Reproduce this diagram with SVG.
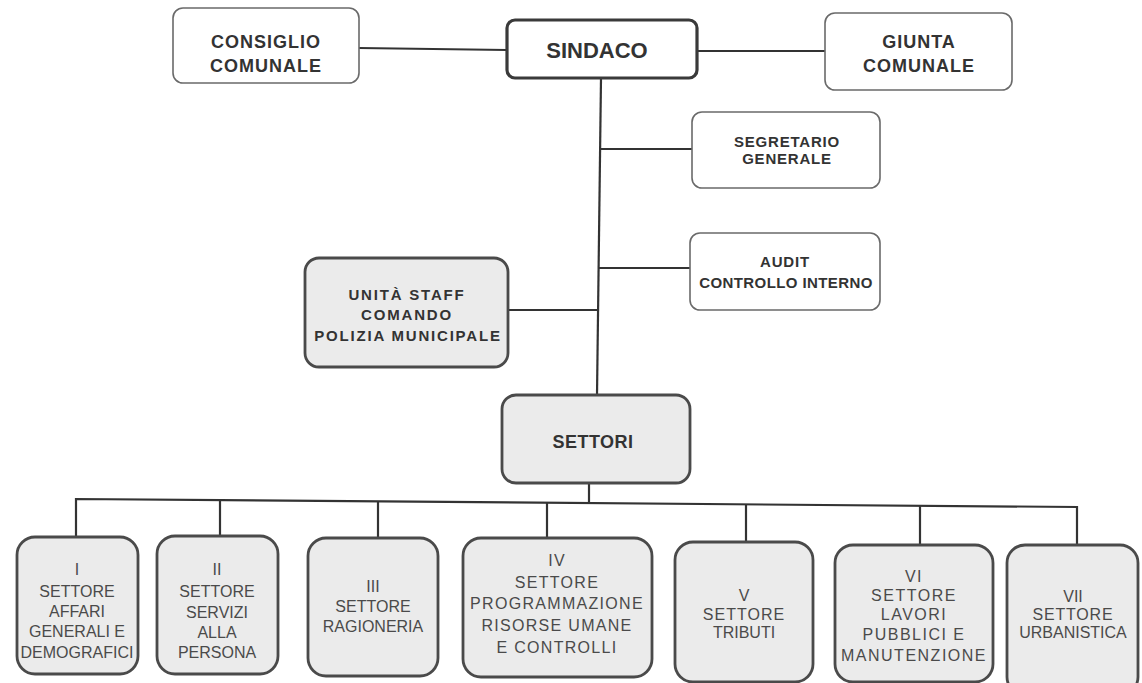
<svg xmlns="http://www.w3.org/2000/svg" width="1142" height="683" viewBox="0 0 1142 683">
<style>
.light{fill:#ffffff;stroke:#6a6a6a;stroke-width:1.6}
.thick{fill:#ffffff;stroke:#3a3a3a;stroke-width:3.2}
.gray{fill:#ebebeb;stroke:#4a4a4a;stroke-width:2.8}
.conn{stroke:#333;stroke-width:2.2;fill:none}
text{font-family:"Liberation Sans",Arial,sans-serif;text-anchor:middle}
.tb{font-weight:bold;fill:#333}
.t1{font-size:18px;letter-spacing:1px}
.t2{font-size:15px;letter-spacing:0.8px}
.t3{font-size:15px;letter-spacing:1.8px}
.tr{font-size:16px;fill:#4a4a4a}
</style>
<rect width="1142" height="683" fill="#ffffff"/>
<g id="connectors">
<line class="conn" x1="359" y1="48" x2="507" y2="50"/>
<line class="conn" x1="697" y1="51" x2="825" y2="51"/>
<line class="conn" x1="601" y1="78" x2="597" y2="395"/>
<line class="conn" x1="600" y1="149" x2="692" y2="149"/>
<line class="conn" x1="599" y1="268" x2="690" y2="268"/>
<line class="conn" x1="508" y1="310" x2="598" y2="310"/>
<line class="conn" x1="589" y1="483" x2="589" y2="503"/>
<polyline class="conn" points="76,537 76,499 1077,507 1077,545"/>
<line class="conn" x1="220" y1="500" x2="220" y2="535"/>
<line class="conn" x1="378" y1="501" x2="378" y2="538"/>
<line class="conn" x1="547" y1="502" x2="547" y2="537"/>
<line class="conn" x1="746" y1="504" x2="746" y2="542"/>
<line class="conn" x1="920" y1="505" x2="920" y2="545"/>
</g>
<g id="consiglio">
<rect class="light" x="173" y="8" width="186" height="75" rx="10"/>
<text class="tb t1" x="266" y="48">CONSIGLIO</text>
<text class="tb t1" x="266" y="72">COMUNALE</text>
</g>
<g id="sindaco">
<rect class="thick" x="507" y="20" width="190" height="58" rx="8"/>
<text class="tb" x="597" y="58" font-size="22">SINDACO</text>
</g>
<g id="giunta">
<rect class="light" x="825" y="13" width="187" height="77" rx="10"/>
<text class="tb t1" x="919" y="48">GIUNTA</text>
<text class="tb t1" x="919" y="72">COMUNALE</text>
</g>
<g id="segretario">
<rect class="light" x="692" y="112" width="188" height="76" rx="10"/>
<text class="tb t2" x="787" y="147">SEGRETARIO</text>
<text class="tb t2" x="787" y="164">GENERALE</text>
</g>
<g id="audit">
<rect class="light" x="690" y="233" width="190" height="77" rx="10"/>
<text class="tb t2" x="785" y="267">AUDIT</text>
<text class="tb" x="786" y="288" font-size="15" letter-spacing="0.4">CONTROLLO INTERNO</text>
</g>
<g id="unita-staff">
<rect class="gray" x="305" y="258" width="203" height="109" rx="14"/>
<text class="tb t3" x="407" y="300">UNITÀ STAFF</text>
<text class="tb t3" x="407" y="320">COMANDO</text>
<text class="tb t3" x="408" y="341">POLIZIA MUNICIPALE</text>
</g>
<g id="settori">
<rect class="gray" x="502" y="395" width="188" height="88" rx="14"/>
<text class="tb" x="593" y="448" font-size="18" letter-spacing="0.5">SETTORI</text>
</g>
<g id="settore-1">
<rect class="gray" x="17" y="537" width="121" height="137" rx="18"/>
<text class="tr" x="77" y="575">I</text>
<text class="tr" x="77" y="597">SETTORE</text>
<text class="tr" x="77" y="617">AFFARI</text>
<text class="tr" x="77" y="637">GENERALI E</text>
<text class="tr" x="77" y="658">DEMOGRAFICI</text>
</g>
<g id="settore-2">
<rect class="gray" x="157" y="536" width="121" height="138" rx="18"/>
<text class="tr" x="217" y="575">II</text>
<text class="tr" x="217" y="597">SETTORE</text>
<text class="tr" x="217" y="618">SERVIZI</text>
<text class="tr" x="217" y="638">ALLA</text>
<text class="tr" x="217" y="658">PERSONA</text>
</g>
<g id="settore-3">
<rect class="gray" x="308" y="538" width="130" height="138" rx="18"/>
<text class="tr" x="373" y="592">III</text>
<text class="tr" x="373" y="612">SETTORE</text>
<text class="tr" x="373" y="632">RAGIONERIA</text>
</g>
<g id="settore-4">
<rect class="gray" x="463" y="538" width="189" height="139" rx="18"/>
<text class="tr" x="557" y="566" letter-spacing="1.3">IV</text>
<text class="tr" x="557" y="588" letter-spacing="1.3">SETTORE</text>
<text class="tr" x="557" y="609" letter-spacing="1.3">PROGRAMMAZIONE</text>
<text class="tr" x="557" y="631" letter-spacing="1.3">RISORSE UMANE</text>
<text class="tr" x="557" y="653" letter-spacing="1.3">E CONTROLLI</text>
</g>
<g id="settore-5">
<rect class="gray" x="675" y="542" width="138" height="140" rx="18"/>
<text class="tr" x="744" y="601">V</text>
<text class="tr" x="744" y="620" letter-spacing="1">SETTORE</text>
<text class="tr" x="744" y="638" font-size="14">TRIBUTI</text>
</g>
<g id="settore-6">
<rect class="gray" x="835" y="545" width="158" height="137" rx="18"/>
<text class="tr" x="914" y="582" letter-spacing="1.5">VI</text>
<text class="tr" x="914" y="601" letter-spacing="1.5">SETTORE</text>
<text class="tr" x="914" y="620" letter-spacing="1.5">LAVORI</text>
<text class="tr" x="914" y="640" letter-spacing="1.5">PUBBLICI E</text>
<text class="tr" x="914" y="661" letter-spacing="1.5">MANUTENZIONE</text>
</g>
<g id="settore-7">
<rect class="gray" x="1007" y="545" width="131" height="150" rx="18"/>
<text class="tr" x="1073" y="602">VII</text>
<text class="tr" x="1073" y="620" letter-spacing="0.8">SETTORE</text>
<text class="tr" x="1073" y="638">URBANISTICA</text>
</g>
</svg>
